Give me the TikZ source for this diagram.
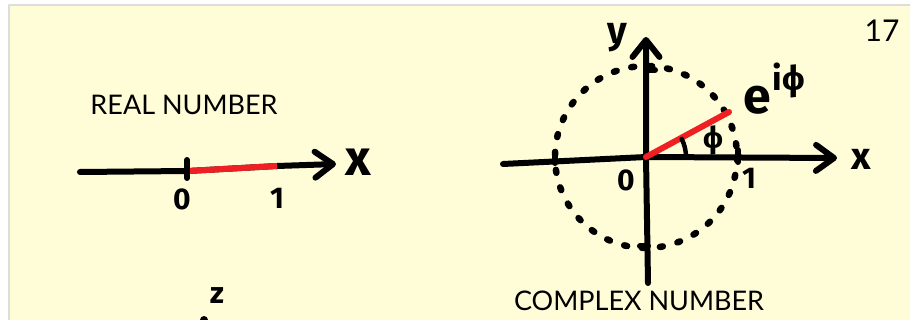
\documentclass[tikz,border=0pt]{standalone}
\usepackage{fontspec}
\setmainfont{Lato}
\newfontfamily\handbold{Fira Sans}
\usetikzlibrary{arrows.meta}
\definecolor{paper}{HTML}{FFFCD8}
\definecolor{edge}{HTML}{DDDDDD}
\definecolor{redline}{HTML}{EE2024}
\begin{document}
\begin{tikzpicture}[x=1pt,y=-1pt,line cap=round,line join=round,
  ink/.style={line width=6pt,black},
  axisarrow/.style={ink,-{Straight Barb[length=18pt,width=26pt,line width=6pt,round]}},
  redseg/.style={line width=6pt,redline},
  dotring/.style={line width=6.5pt,dash pattern=on 3pt off 15pt},
  lbl/.style={font=\handbold\bfseries\fontsize{30}{30}\selectfont,inner sep=0pt},
  biglbl/.style={font=\handbold\bfseries\fontsize{50}{50}\selectfont,inner sep=0pt},
  title/.style={font=\fontsize{27}{27}\selectfont,inner sep=0pt}]
\useasboundingbox (0,0) rectangle (910,320);
\fill[white] (0,0) rectangle (910,320);
\fill[paper] (9,5) rectangle (910,320);
\draw[edge,line width=1.5pt,line cap=butt] (9,320) -- (9,5) -- (910,5);

% ---------- real number line ----------
\node[title] (realt) at (184,105) {REAL NUMBER};
\coordinate (rL) at (80,172);
\coordinate (r0) at (188,171);
\coordinate (r1) at (277,166);
\coordinate (rX) at (336,164);
\coordinate (rT0) at (187,160);
\coordinate (rT1) at (187,178);
\draw[axisarrow] (rL) -- (r0) -- (r1) -- (rX);
\draw[redseg,line cap=butt] (r0) -- (r1);
\draw[ink] (rT0) -- (rT1);
\node[lbl] (rl0) at (182,199) {0};
\node[lbl] (rl1) at (277,198) {1};
\node[biglbl] (rlx) at (358,162) {x};

\node[lbl] (zl) at (217,296) {z};
\fill (204,320) circle (4);

% ---------- complex plane ----------
\coordinate (O) at (646,157);
\coordinate (xL) at (503,164);
\coordinate (xR) at (837,158);
\coordinate (yB) at (648,283);
\coordinate (yT) at (646,37);
\coordinate (E) at (729,112);
\draw[dotring] (O) circle (91);
\draw[axisarrow] (xL) -- (O) -- (xR);
\draw[axisarrow,-{Straight Barb[length=17pt,width=27pt,line width=6pt,round]}] (yB) -- (O) -- (yT);
% circle crossing ticks
\coordinate (tl1) at (555,152); \coordinate (tl2) at (555,163);
\coordinate (tr1) at (738,150); \coordinate (tr2) at (738,162);
\coordinate (tt1) at (647,70); \coordinate (tt2) at (655,70);
\coordinate (tb1) at (640,246); \coordinate (tb2) at (648,246);
\draw[ink] (tl1) -- (tl2);
\draw[ink] (tr1) -- (tr2);
\draw[ink] (tt1) -- (tt2);
\draw[ink] (tb1) -- (tb2);
\draw[redseg] (O) -- (E);
\draw[ink,line width=4.5pt] ([shift={(0:40)}]O) arc (0:-27:40);
\node[lbl] (phi) at (713,140) {ϕ};
\node[biglbl] (e) at (757,100) {e};
\node[lbl,font=\handbold\bfseries\fontsize{34}{34}\selectfont] (iphi) at (789,80) {iϕ};
\node[lbl] (c0) at (626,180) {0};
\node[lbl] (c1) at (749,178) {1};
\node[biglbl,font=\handbold\bfseries\fontsize{38}{38}\selectfont] (cy) at (617,38) {y};
\node[biglbl,font=\handbold\bfseries\fontsize{38}{38}\selectfont] (cx) at (861,159) {x};
\node[title] (cplx) at (639,301) {COMPLEX NUMBER};
\node[title,font=\fontsize{30}{30}\selectfont] (pg) at (882,31) {17};
\end{tikzpicture}
\end{document}
